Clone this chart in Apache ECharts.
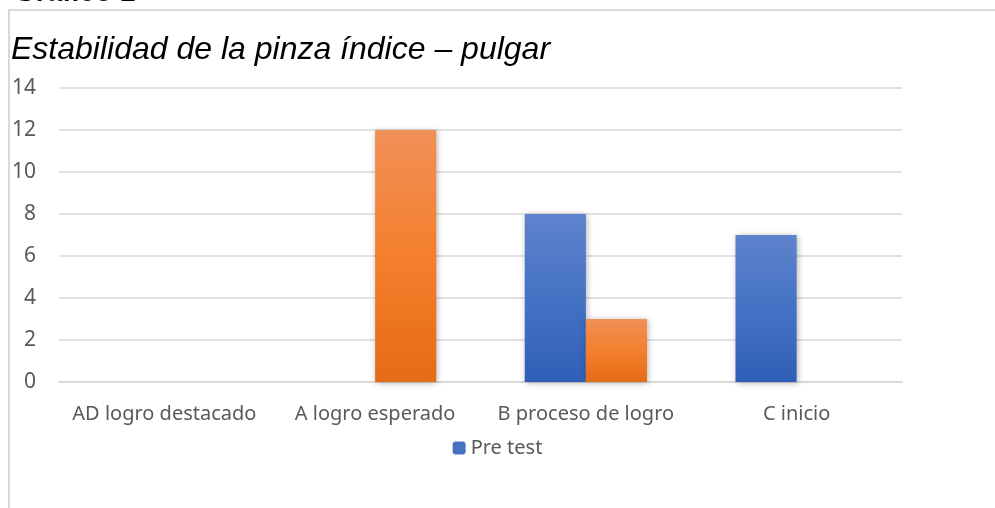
<!DOCTYPE html>
<html>
<head>
<meta charset="utf-8">
<script src="https://cdn.jsdelivr.net/npm/echarts@6/dist/echarts.min.js"></script>
<style>
  html, body { margin: 0; padding: 0; background: #fff; }
  #chart { width: 995px; height: 508px; }
</style>
</head>
<body>
<div id="chart"></div>
<script>
const categories = ['AD logro destacado', 'A logro esperado', 'B proceso de logro', 'C inicio']
const preTest = [0, 0, 8, 7]
const postTest = [0, 12, 3, 0]
const yTicks = { min: 0, max: 14, interval: 2 }

const chart = echarts.init(document.getElementById('chart'))

const grad = (top, mid, bottom) => new echarts.graphic.LinearGradient(0, 0, 0, 1, [
  { offset: 0, color: top },
  { offset: 0.5, color: mid },
  { offset: 1, color: bottom }
])

const option = {
  backgroundColor: '#fff',
  animation: false,
  graphic: [
    {
      type: 'rect',
      shape: { x: 9, y: 10, width: 1000, height: 520 },
      style: { fill: 'none', stroke: '#d9d9d9', lineWidth: 2 },
      silent: true,
      z: 1
    },
    {
      type: 'text',
      x: 14,
      y: 7,
      z: 2,
      style: {
        text: 'Gráfico 1',
        font: 'bold 28px "Liberation Sans", Arial, sans-serif',
        fill: '#000',
        textVerticalAlign: 'bottom'
      }
    }
  ],
  title: {
    text: 'Estabilidad de la pinza índice – pulgar',
    left: 6,
    top: 29,
    textStyle: {
      color: '#000',
      fontFamily: '"Liberation Sans", Arial, sans-serif',
      fontStyle: 'italic',
      fontWeight: 'normal',
      fontSize: 32
    }
  },
  legend: {
    data: [{ name: 'Pre test', itemStyle: { color: '#4472c4' } }],
    top: 433,
    left: 'center',
    itemWidth: 13,
    itemHeight: 13,
    itemGap: 6,
    textStyle: {
      color: '#595959',
      fontFamily: '"Noto Sans", sans-serif',
      fontSize: 20
    }
  },
  grid: {
    left: 59,
    right: 93,
    top: 88,
    bottom: 126,
    containLabel: false
  },
  xAxis: {
    type: 'category',
    data: categories,
    axisLine: { lineStyle: { color: '#d9d9d9', width: 2 } },
    axisTick: { show: false },
    axisLabel: {
      color: '#595959',
      fontFamily: '"Noto Sans", sans-serif',
      fontSize: 20,
      margin: 22,
      interval: 0
    }
  },
  yAxis: {
    type: 'value',
    min: yTicks.min,
    max: yTicks.max,
    interval: yTicks.interval,
    axisLine: { show: false },
    axisTick: { show: false },
    axisLabel: {
      color: '#595959',
      fontFamily: '"Noto Sans", sans-serif',
      fontSize: 21,
      margin: 23
    },
    splitLine: { lineStyle: { color: '#d9d9d9', width: 1.5 } }
  },
  series: [
    {
      name: 'Pre test',
      type: 'bar',
      data: preTest,
      barGap: '0%',
      barCategoryGap: '42%',
      itemStyle: {
        color: grad('#5f82cc', '#4472c4', '#2f5fb6'),
        shadowColor: 'rgba(0,0,0,0.3)',
        shadowBlur: 6,
        shadowOffsetX: 1,
        shadowOffsetY: 1
      }
    },
    {
      name: 'Post test',
      type: 'bar',
      data: postTest,
      itemStyle: {
        color: grad('#f19058', '#f47f2c', '#e56b18'),
        shadowColor: 'rgba(0,0,0,0.3)',
        shadowBlur: 6,
        shadowOffsetX: 1,
        shadowOffsetY: 1
      }
    }
  ]
}

chart.setOption(option)
</script>
</body>
</html>
